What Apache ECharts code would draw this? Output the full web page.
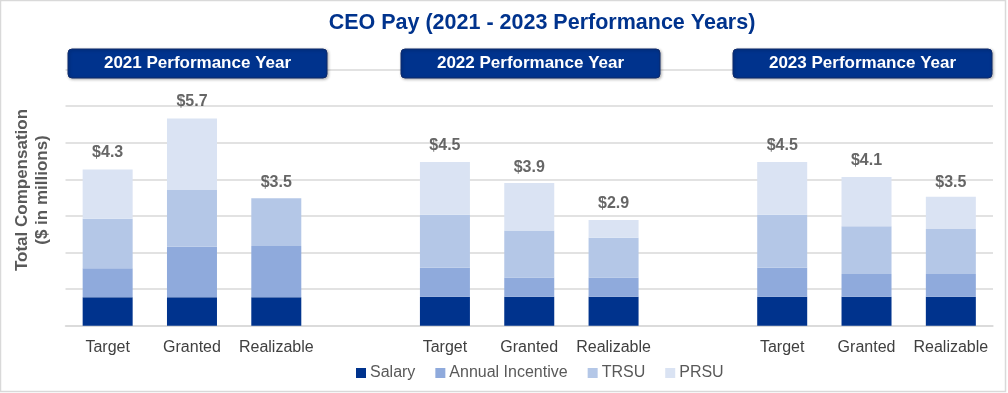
<!DOCTYPE html>
<html>
<head>
<meta charset="utf-8">
<script src="https://cdn.jsdelivr.net/npm/echarts@6/dist/echarts.min.js"></script>
<style>
  html, body { margin: 0; padding: 0; background: #fff; }
  #chart { width: 1008px; height: 393px; }
</style>
</head>
<body>
<div id="chart"></div>
<script>
// ---- Data ----
const title = 'CEO Pay (2021 - 2023 Performance Years)';
const years = ['2021 Performance Year', '2022 Performance Year', '2023 Performance Year'];
const categories = ['Target', 'Granted', 'Realizable'];
const seriesNames = ['Salary', 'Annual Incentive', 'TRSU', 'PRSU'];
// values per bar: 2021 (T, G, R), 2022 (T, G, R), 2023 (T, G, R) in $ millions
const salary          = [0.78, 0.78, 0.78, 0.79, 0.79, 0.79, 0.79, 0.79, 0.79];
const annualIncentive = [0.79, 1.38, 1.40, 0.79, 0.53, 0.53, 0.79, 0.62, 0.62];
const trsu            = [1.35, 1.55, 1.30, 1.45, 1.28, 1.08, 1.45, 1.31, 1.23];
const prsu            = [1.35, 1.95, 0.00, 1.44, 1.30, 0.49, 1.44, 1.34, 0.88];
const totals          = [4.3, 5.7, 3.5, 4.5, 3.9, 2.9, 4.5, 4.1, 3.5];
const yTicks = [0, 1, 2, 3, 4, 5, 6, 7];

// ---- Build axis with gaps between year groups ----
const xCats = [];
const idxMap = [];
years.forEach((y, g) => {
  if (g > 0) { xCats.push(''); idxMap.push(-1); }
  categories.forEach((c, i) => { xCats.push(c); idxMap.push(g * 3 + i); });
});
const expand = arr => idxMap.map(i => (i < 0 ? '-' : arr[i]));

const FONT = 'Liberation Sans, Arial, sans-serif';
const colors = ['#00338D', '#8FAADC', '#B4C7E7', '#DAE3F3'];
const valueSets = [salary, annualIncentive, trsu, prsu];

const series = valueSets.map((vals, k) => ({
  name: seriesNames[k],
  type: 'bar',
  stack: 'total',
  barWidth: 50,
  data: expand(vals),
  itemStyle: { color: colors[k] },
  emphasis: { disabled: true }
}));
series.push({
  name: 'totals',
  type: 'scatter',
  data: expand(totals),
  symbolSize: 1,
  itemStyle: { color: 'rgba(0,0,0,0)' },
  label: {
    show: true, position: 'top', distance: 7,
    formatter: p => '$' + p.value.toFixed(1),
    fontFamily: FONT, fontWeight: 'bold', fontSize: 16, color: '#404040'
  },
  silent: true,
  z: 5
});

const boxX = [68, 401, 733];
const boxW = 259;
const graphics = [
  { type: 'rect', shape: { x: 0.5, y: 0.5, width: 1005, height: 391 },
    style: { fill: 'none', stroke: '#D9D9D9', lineWidth: 1.5 }, z: 100 }
];
years.forEach((y, i) => {
  graphics.push({
    type: 'rect', shape: { x: boxX[i], y: 49, width: boxW, height: 29, r: 4 },
    style: { fill: '#00338D', stroke: '#0F2A6B', lineWidth: 1,
             shadowBlur: 3, shadowColor: 'rgba(0,0,0,0.3)', shadowOffsetX: 1, shadowOffsetY: 1 },
    z: 50
  });
  graphics.push({
    type: 'text', x: boxX[i] + boxW / 2, y: 63.5,
    style: { text: y, fill: '#fff', font: 'bold 17px "Liberation Sans", Arial, sans-serif',
             textAlign: 'center', textVerticalAlign: 'middle' },
    z: 51
  });
});
graphics.push({
  type: 'text', x: 32, y: 190, rotation: Math.PI / 2,
  style: { text: 'Total Compensation\n($ in millions)', fill: '#595959',
           font: 'bold 17px "Liberation Sans", Arial, sans-serif',
           textAlign: 'center', textVerticalAlign: 'middle', lineHeight: 20 },
  z: 50
});

const chart = echarts.init(document.getElementById('chart'), null, { renderer: 'canvas' });
chart.setOption({
  animation: false,
  backgroundColor: '#fff',
  title: {
    text: title, left: 537, top: 7, textAlign: 'center',
    textStyle: { fontFamily: FONT, fontWeight: 'bold', fontSize: 21.5, color: '#00338D' }
  },
  legend: {
    data: seriesNames, bottom: 7, left: 351,
    itemWidth: 10, itemHeight: 10, itemGap: 20, icon: 'rect',
    textStyle: { fontFamily: FONT, fontSize: 16, color: '#595959', padding: [0, 0, 0, -1] }
  },
  grid: { left: 65.5, right: 15, top: 69.5, bottom: 67.3, containLabel: false },
  xAxis: {
    type: 'category', data: xCats,
    axisLine: { show: true, lineStyle: { color: '#D9D9D9', width: 1.5 } },
    axisTick: { show: false },
    axisLabel: { interval: 0, margin: 14, fontFamily: FONT, fontSize: 16, color: '#404040' }
  },
  yAxis: {
    type: 'value', min: yTicks[0], max: yTicks[yTicks.length - 1], interval: 1,
    axisLabel: { show: false },
    axisLine: { show: false }, axisTick: { show: false },
    splitLine: { lineStyle: { color: '#D9D9D9', width: 1.5 } }
  },
  graphic: graphics,
  series: series
});
</script>
</body>
</html>
